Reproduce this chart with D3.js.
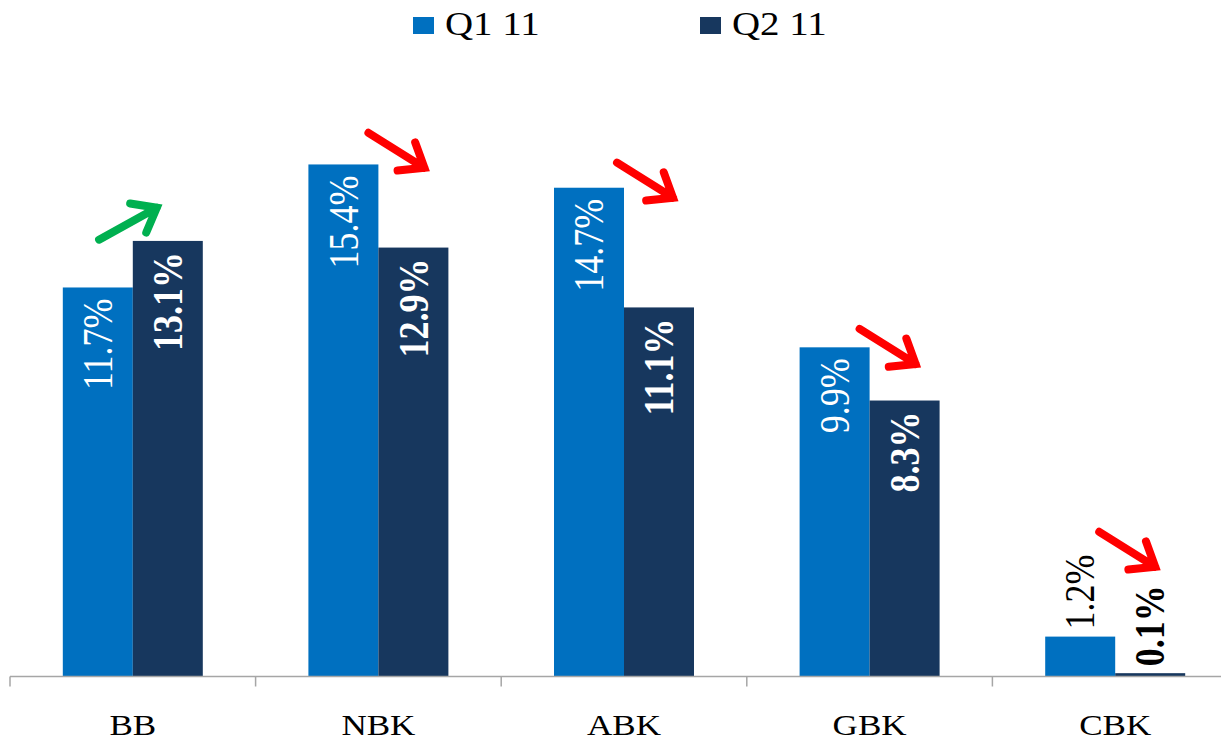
<!DOCTYPE html>
<html>
<head>
<meta charset="utf-8">
<script src="https://cdn.jsdelivr.net/npm/d3@7"></script>
<style>
  body { margin: 0; background: #fff; }
  text { font-family: "Liberation Serif", "Times New Roman", serif; }
</style>
</head>
<body>
<div id="chart"></div>
<script>
// data
var banks = ["BB", "NBK", "ABK", "GBK", "CBK"];
var seriesNames = ["Q1 11", "Q2 11"];
var q1 = [11.7, 15.4, 14.7, 9.9, 1.2];
var q2 = [13.1, 12.9, 11.1, 8.3, 0.1];
// trend arrows: direction and level (in %) of the arrow tip
var arrowDir = ["up", "down", "down", "down", "down"];
var arrowLevel = [14.1, 15.3, 14.4, 9.4, 3.3];

var width = 1221, height = 742;
var colors = ["#0070C0", "#17375E"];
var sx = 1.17; // reference text looks a bit wide

var svg = d3.select("#chart").append("svg")
    .attr("width", width)
    .attr("height", height);

var x0 = d3.scaleBand()
    .domain(banks)
    .range([10, 1238])
    .paddingInner(0.43)
    .paddingOuter(0.215);

var x1 = d3.scaleBand()
    .domain(seriesNames)
    .range([0, x0.bandwidth()]);

var y = d3.scaleLinear()
    .domain([0, 16])
    .range([676.5, 676.5 - 16 * 33.25]);

var rows = banks.map(function(b, i) {
    return {bank: b, values: [
        {series: seriesNames[0], v: q1[i], s: 0},
        {series: seriesNames[1], v: q2[i], s: 1}
    ]};
});

// bars
var groups = svg.selectAll("g.bank")
    .data(rows)
    .enter().append("g")
    .attr("class", "bank")
    .attr("transform", d => "translate(" + x0(d.bank) + ",0)");

groups.selectAll("rect")
    .data(d => d.values)
    .enter().append("rect")
    .attr("x", d => x1(d.series))
    .attr("y", d => y(d.v))
    .attr("width", x1.bandwidth())
    .attr("height", d => y(0) - y(d.v))
    .attr("fill", d => colors[d.s]);

// value labels, rotated
groups.selectAll("text.val")
    .data(d => d.values)
    .enter().append("text")
    .attr("class", "val")
    .each(function(d) {
        var inside = (y(0) - y(d.v)) > 110;
        var cx = x1(d.series) + x1.bandwidth() / 2;
        var ty = inside ? y(d.v) + 11 : y(d.v) - 7;
        d3.select(this)
            .attr("transform", "translate(" + cx + "," + ty + ") scale(" + 1.2 + ",1) rotate(-90)")
            .attr("text-anchor", inside ? "end" : "start")
            .attr("dominant-baseline", "central")
            .attr("fill", inside ? "#fff" : "#000")
            .attr("font-weight", d.s == 1 ? "bold" : "normal")
            .attr("font-size", 36)
            .text(d.v.toFixed(1) + "%");
    });

// x axis
var axis = svg.append("g")
    .attr("transform", "translate(0," + 676.5 + ")");
axis.append("line")
    .attr("x1", 10).attr("x2", 1238)
    .attr("stroke", "#A6A6A6").attr("stroke-width", 1.5);
axis.selectAll("line.tick")
    .data(banks)
    .enter().append("line")
    .attr("class", "tick")
    .attr("x1", d => x0(d) - x0.step() * 0.215)
    .attr("x2", d => x0(d) - x0.step() * 0.215)
    .attr("y1", 0).attr("y2", 10)
    .attr("stroke", "#A6A6A6").attr("stroke-width", 1.5);
axis.selectAll("text")
    .data(banks)
    .enter().append("text")
    .attr("transform", d => "translate(" + (x0(d) + x0.bandwidth() / 2) + ",58) scale(" + sx + ",1)")
    .attr("text-anchor", "middle")
    .attr("font-size", 30)
    .attr("fill", "#000")
    .text(d => d);

// legend
var legendX = [413, 700];
var leg = svg.selectAll("g.legend")
    .data(seriesNames)
    .enter().append("g")
    .attr("class", "legend")
    .attr("transform", (d, i) => "translate(" + legendX[i] + ",0)");
leg.append("rect")
    .attr("x", 0).attr("y", 17)
    .attr("width", 21).attr("height", 17)
    .attr("fill", (d, i) => colors[i]);
leg.append("text")
    .attr("transform", "translate(32,35) scale(1.18,1)")
    .attr("font-size", 33)
    .attr("fill", "#000")
    .text(d => d);

// trend arrows
function arrowPath(len, arm) {
    var a = 38 * Math.PI / 180;
    return "M" + (-len) + ",0 L0,0" +
        " M" + (-arm * Math.cos(a)) + "," + (-arm * Math.sin(a)) + " L0,0 L" +
        (-arm * Math.cos(a)) + "," + (arm * Math.sin(a));
}
var arrowDx = [24, 46, 49, 46, 40];
svg.selectAll("path.arrow")
    .data(banks)
    .enter().append("path")
    .attr("class", "arrow")
    .attr("transform", function(d, i) {
        var tx = x0(d) + x0.bandwidth() / 2 + arrowDx[i];
        var ty = y(arrowLevel[i]);
        var ang = arrowDir[i] == "up" ? -29 : 32;
        return "translate(" + tx + "," + ty + ") rotate(" + ang + ")";
    })
    .attr("d", arrowPath(66, 27))
    .attr("fill", "none")
    .attr("stroke", (d, i) => arrowDir[i] == "up" ? "#00B050" : "#FF0000")
    .attr("stroke-width", 8)
    .attr("stroke-linecap", "round")
    .attr("stroke-linejoin", "miter");
</script>
</body>
</html>
